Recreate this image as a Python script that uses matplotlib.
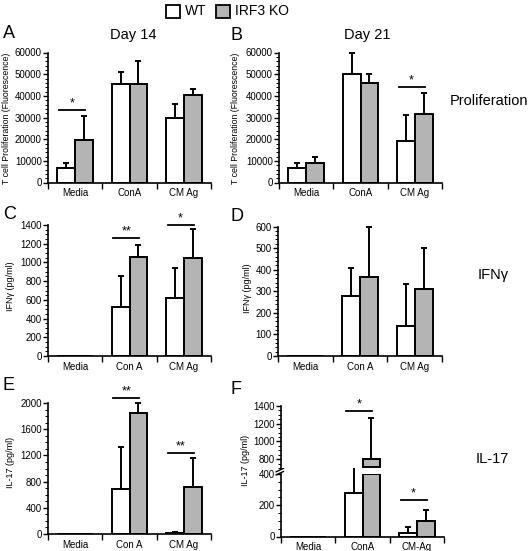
import numpy as np
import matplotlib
matplotlib.use('Agg')
import matplotlib.pyplot as plt
from matplotlib.ticker import AutoMinorLocator
from matplotlib.patches import Rectangle

plt.rcParams['font.family'] = ['Liberation Sans', 'DejaVu Sans']

# ---- data ----
cats_ab = ['Media', 'ConA', 'CM Ag']
cats_cde = ['Media', 'Con A', 'CM Ag']
cats_f = ['Media', 'ConA', 'CM-Ag']

# A: proliferation day 14
a_wt = [6900, 45500, 29700]
a_wt_sd = [1900, 5600, 6500]
a_ko = [19700, 45400, 40600]
a_ko_sd = [10900, 10800, 2500]
a_sig = [(0, 33300, '*')]

# B: proliferation day 21
b_wt = [6800, 50300, 19100]
b_wt_sd = [2400, 9400, 12100]
b_ko = [9100, 46000, 31700]
b_ko_sd = [2900, 4000, 9800]
b_sig = [(2, 44000, '*')]

# C: IFNg day 14
c_wt = [0, 520, 621]
c_wt_sd = [0, 334, 316]
c_ko = [0, 1059, 1044]
c_ko_sd = [0, 129, 309]
c_sig = [(1, 1256, '**'), (2, 1403, '*')]

# D: IFNg day 21
d_wt = [0, 277, 138]
d_wt_sd = [0, 133, 197]
d_ko = [0, 364, 311]
d_ko_sd = [0, 233, 191]
d_sig = []

# E: IL-17 day 14
e_wt = [0, 692, 20]
e_wt_sd = [0, 631, 15]
e_ko = [0, 1852, 723]
e_ko_sd = [0, 148, 437]
e_sig = [(1, 2076, '**'), (2, 1237, '**')]

# F: IL-17 day 21 (broken axis)
f_wt = [0, 277, 22]
f_wt_sd = [0, 185, 42]
f_ko = [0, 800, 102]
f_ko_sd = [0, 468, 68]
f_sig_top = [(1, 1347, '*')]
f_sig_low = [(2, 234, '*')]

W, H = 528, 551
GREY = '#b4b4b4'
BW = 0.33
LW = 1.4


def box(l, t, r, b):
    return [l / W, 1 - b / H, (r - l) / W, (b - t) / H]


def errs(ax, xs, vals, sds):
    for xi, v, s in zip(xs, vals, sds):
        if s > 0:
            ax.errorbar(xi, v, yerr=[[0], [s]], color='black', lw=LW,
                        capsize=2.3, capthick=LW, clip_on=False, zorder=3)


def style(ax, cats, ylim, step, nminor, xlabels=True):
    n = len(cats)
    ax.set_xlim(-0.5, n - 0.5)
    ax.set_ylim(*ylim)
    ax.set_yticks(np.arange(ylim[0], ylim[1] + 1, step))
    ax.yaxis.set_minor_locator(AutoMinorLocator(nminor))
    ax.set_xticks(np.arange(n + 1) - 0.5)
    ax.set_xticklabels([])
    ax.set_xticks(np.arange(n), minor=True)
    ax.set_xticklabels(cats if xlabels else [], minor=True)
    ax.tick_params(axis='x', which='major', length=4, width=1)
    ax.tick_params(axis='x', which='minor', length=0, pad=4, labelsize=7)
    ax.tick_params(axis='y', which='major', length=3.5, width=1, labelsize=7, pad=1)
    ax.tick_params(axis='y', which='minor', length=2, width=0.7)
    for s in ['top', 'right']:
        ax.spines[s].set_visible(False)
    for s in ['left', 'bottom']:
        ax.spines[s].set_linewidth(1.2)


def sig(ax, items):
    for c, y, lab in items:
        ax.plot([c - 0.3, c + 0.18], [y, y], color='black', lw=1.3, clip_on=False)
        ax.annotate(lab, (c - 0.06, y), xytext=(0, 0.5), textcoords='offset points',
                    ha='center', va='bottom', fontsize=9, annotation_clip=False)


def panel(ax, cats, wt, wt_sd, ko, ko_sd, ylim, step, nminor, sigs):
    x = np.arange(len(cats))
    ax.bar(x - BW / 2, wt, BW, color='white', edgecolor='black', lw=LW, zorder=2)
    ax.bar(x + BW / 2, ko, BW, color=GREY, edgecolor='black', lw=LW, zorder=2)
    errs(ax, x - BW / 2, wt, wt_sd)
    errs(ax, x + BW / 2, ko, ko_sd)
    style(ax, cats, ylim, step, nminor)
    sig(ax, sigs)


fig = plt.figure(figsize=(W / 100, H / 100), dpi=100)

ax_a = fig.add_axes(box(48, 52.5, 211, 182.5))
panel(ax_a, cats_ab, a_wt, a_wt_sd, a_ko, a_ko_sd, (0, 60000), 10000, 5, a_sig)
ax_b = fig.add_axes(box(279, 52.5, 442, 182.5))
panel(ax_b, cats_ab, b_wt, b_wt_sd, b_ko, b_ko_sd, (0, 60000), 10000, 5, b_sig)

ax_c = fig.add_axes(box(48, 225, 211, 356))
panel(ax_c, cats_cde, c_wt, c_wt_sd, c_ko, c_ko_sd, (0, 1400), 200, 4, c_sig)
ax_d = fig.add_axes(box(278, 226.5, 442, 356))
panel(ax_d, cats_cde, d_wt, d_wt_sd, d_ko, d_ko_sd, (0, 600), 100, 5, d_sig)

ax_e = fig.add_axes(box(48, 403, 211, 534))
panel(ax_e, cats_cde, e_wt, e_wt_sd, e_ko, e_ko_sd, (0, 2000), 400, 4, e_sig)

# F: broken y axis, lower part 0-400, upper part 700-1400
LOW_MAX = 400
TOP_MIN = 700
ax_f = fig.add_axes(box(281, 474, 444, 536.5))
ax_f2 = fig.add_axes(box(281, 406, 444, 468))
x = np.arange(len(cats_f))
ax_f.bar(x - BW / 2, f_wt, BW, color='white', edgecolor='black', lw=LW, zorder=2)
ax_f.bar(x + BW / 2, np.minimum(f_ko, LOW_MAX), BW, color=GREY, edgecolor='black',
         lw=LW, zorder=2)
errs(ax_f, x - BW / 2, f_wt, f_wt_sd)
ko_hi = np.array(f_ko)
mask = ko_hi > LOW_MAX
ax_f2.bar(x[mask] + BW / 2, ko_hi[mask] - TOP_MIN - 6, BW, bottom=TOP_MIN + 6,
          color=GREY, edgecolor='black', lw=LW, zorder=2)
errs(ax_f, (x + BW / 2)[~mask], ko_hi[~mask], np.array(f_ko_sd)[~mask])
errs(ax_f2, (x + BW / 2)[mask], ko_hi[mask], np.array(f_ko_sd)[mask])
style(ax_f, cats_f, (0, LOW_MAX), 200, 4)
style(ax_f2, cats_f, (TOP_MIN, 1400), 200, 4, xlabels=False)
ax_f2.set_yticks([800, 1000, 1200, 1400])
ax_f2.spines['bottom'].set_visible(False)
ax_f2.tick_params(axis='x', which='both', length=0)
sig(ax_f, f_sig_low)
sig(ax_f2, f_sig_top)
# break mark on y spine
for dy in (0.0, 0.05):
    ax_f.plot([-0.03, 0.015], [0.985 + dy, 1.04 + dy], transform=ax_f.transAxes,
              color='black', lw=1, clip_on=False)

# y labels
fig.text(7 / W, 1 - 118 / H, 'T cell Proliferation (Fluorescence)', rotation=90,
         ha='center', va='center', fontsize=6.3)
fig.text(235 / W, 1 - 118 / H, 'T cell Proliferation (Fluorescence)', rotation=90,
         ha='center', va='center', fontsize=6.3)
fig.text(11 / W, 1 - 286 / H, 'IFNγ (pg/ml)', rotation=90, ha='center', va='center', fontsize=6.5)
fig.text(247 / W, 1 - 288 / H, 'IFNγ (pg/ml)', rotation=90, ha='center', va='center', fontsize=6.5)
fig.text(11 / W, 1 - 462 / H, 'IL-17 (pg/ml)', rotation=90, ha='center', va='center', fontsize=6.5)
fig.text(246 / W, 1 - 460 / H, 'IL-17 (pg/ml)', rotation=90, ha='center', va='center', fontsize=6.5)

# panel letters, titles, row labels
for lab, px, py in [('A', 3, 33), ('B', 231, 35), ('C', 3, 215), ('D', 231, 217),
                    ('E', 3, 385), ('F', 231, 390)]:
    fig.text(px / W, 1 - py / H, lab, ha='left', va='center', fontsize=13)
fig.text(133 / W, 1 - 35 / H, 'Day 14', ha='center', va='center', fontsize=10.5)
fig.text(367 / W, 1 - 35 / H, 'Day 21', ha='center', va='center', fontsize=10.5)
fig.text(450 / W, 1 - 101 / H, 'Proliferation', ha='left', va='center', fontsize=10.5)
fig.text(478 / W, 1 - 275 / H, 'IFNγ', ha='left', va='center', fontsize=10.5)
fig.text(476 / W, 1 - 459 / H, 'IL-17', ha='left', va='center', fontsize=10.5)

# legend
for fc, lx, txt in [('white', 166, 'WT'), (GREY, 216, 'IRF3 KO')]:
    fig.patches.append(Rectangle((lx / W, 1 - 18 / H), 14 / W, 13 / H, transform=fig.transFigure,
                                 facecolor=fc, edgecolor='black', lw=1.3))
    fig.text((lx + 19) / W, 1 - 11 / H, txt, ha='left', va='center', fontsize=10)

fig.savefig('out.png', dpi=100)
